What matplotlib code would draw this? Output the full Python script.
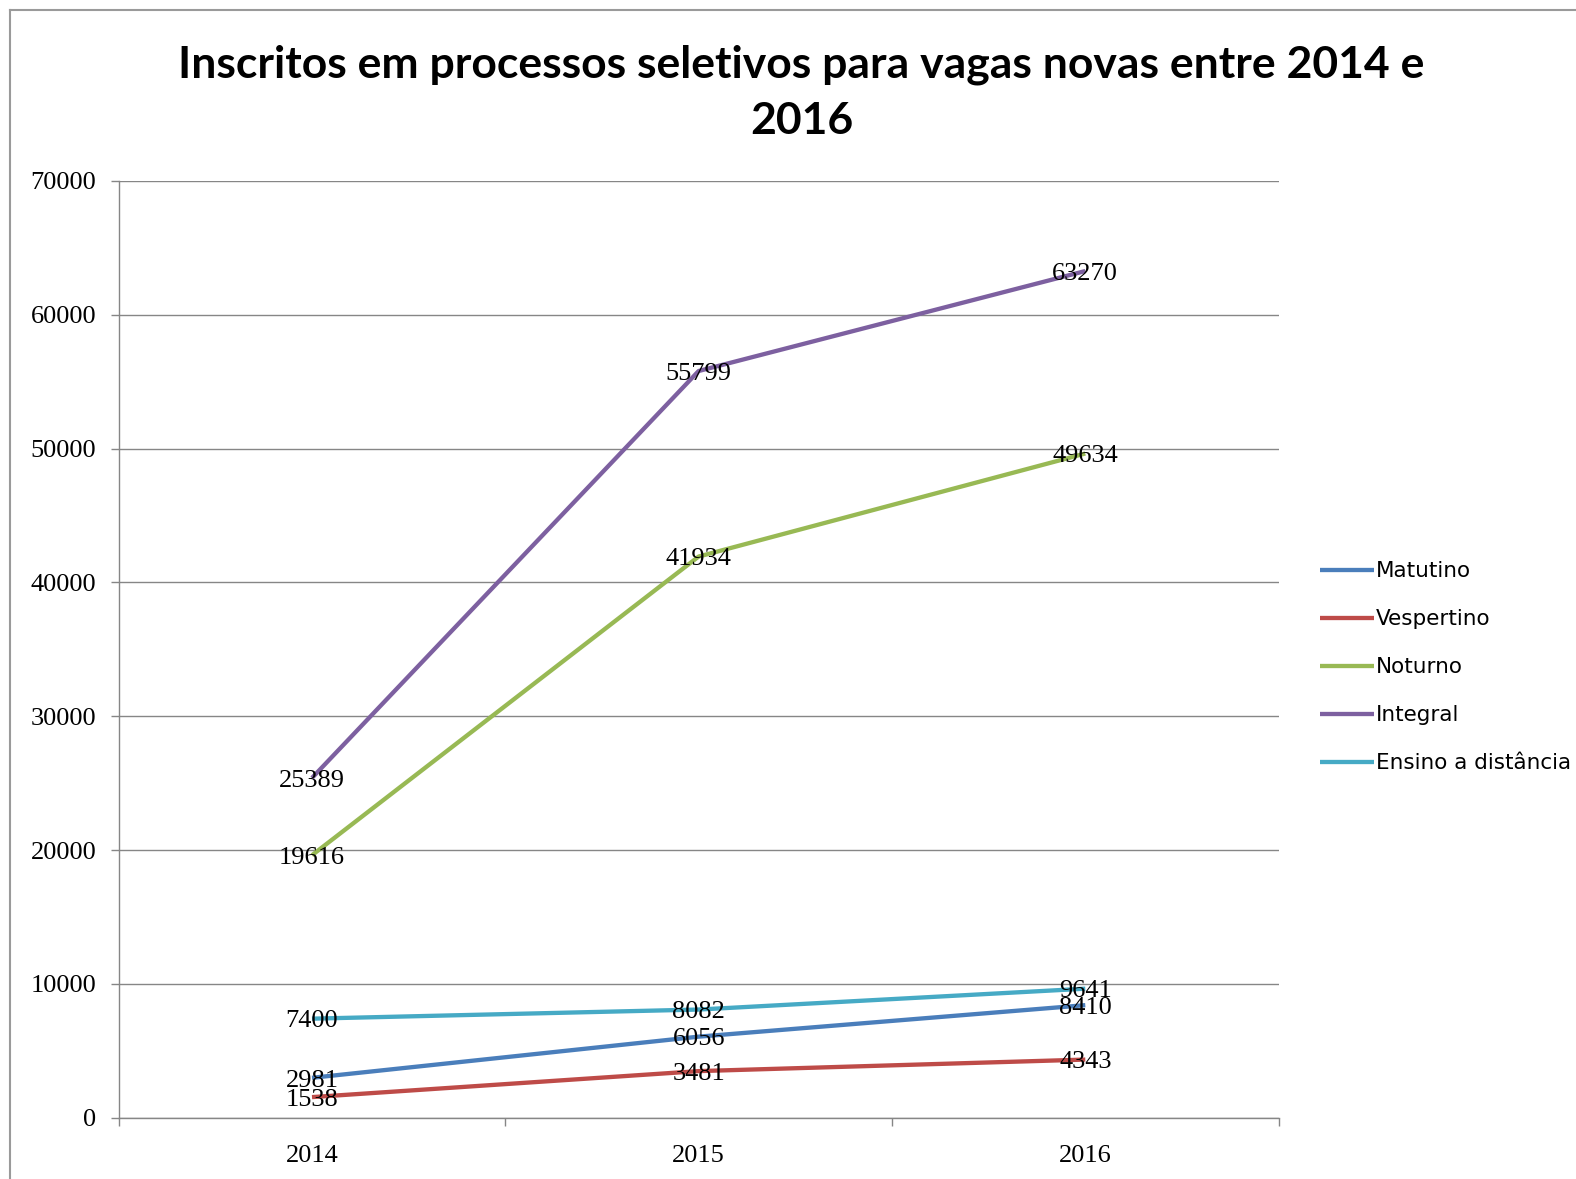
import matplotlib

matplotlib.use("Agg")

import matplotlib.pyplot as plt  # noqa: E402
from matplotlib.lines import Line2D  # noqa: E402

# data
years = ["2014", "2015", "2016"]
series_names = ["Matutino", "Vespertino", "Noturno", "Integral",
                "Ensino a distância"]
matutino = [2981, 6056, 8410]
vespertino = [1538, 3481, 4343]
noturno = [19616, 41934, 49634]
integral = [25389, 55799, 63270]
ead = [7400, 8082, 9641]
y_ticks = [0, 10000, 20000, 30000, 40000, 50000, 60000, 70000]

colors = ["#4A7EBB", "#BE4B48", "#98B954", "#7D60A0", "#46AAC5"]
GRAY = "#868686"
NUM_FONT = "Liberation Serif"

fig = plt.figure(figsize=(15.76, 11.79), dpi=100)
ax = fig.add_axes((0.0753, 0.0520, 0.7360, 0.7945))

x = list(range(len(years)))
for name, vals, col in zip(series_names,
                           [matutino, vespertino, noturno, integral, ead],
                           colors):
    ax.plot(x, vals, color=col, lw=3.1, label=name, solid_capstyle="butt",
            zorder=3)
    for xi, v in zip(x, vals):
        ax.annotate(str(v), (xi, v), xytext=(0, -2), textcoords="offset points",
                    ha="center", va="center", fontsize=19, family=NUM_FONT,
                    color="black", zorder=4)

ax.set_xlim(-0.5, len(years) - 0.5)
ax.set_ylim(0, 70000)
ax.set_yticks(y_ticks)
ax.set_yticklabels([str(t) for t in y_ticks], family=NUM_FONT, fontsize=19)
ax.set_xticks(x)
ax.set_xticklabels(years, family=NUM_FONT, fontsize=19)
ax.set_xticks([i - 0.5 for i in range(len(years) + 1)], minor=True)
ax.tick_params(axis="x", which="major", length=0, pad=20)
ax.tick_params(axis="x", which="minor", length=6, color=GRAY, width=1)
ax.tick_params(axis="y", length=6, color=GRAY, width=1, pad=10)
ax.yaxis.grid(True, color=GRAY, lw=1)
ax.set_axisbelow(True)
for side in ("top", "right"):
    ax.spines[side].set_visible(False)
for side in ("left", "bottom"):
    ax.spines[side].set_color(GRAY)
    ax.spines[side].set_linewidth(1)

fig.text(0.5086, 0.9210,
         "Inscritos em processos seletivos para vagas novas entre 2014 e\n2016",
         ha="center", va="center", fontsize=32, fontweight="bold",
         family="Lato", linespacing=1.49)

ax.legend(loc="center left", bbox_to_anchor=(0.8374, 0.4339),
          bbox_transform=fig.transFigure, frameon=False,
          handlelength=2.5, handletextpad=0.12, labelspacing=1.3,
          borderpad=0, borderaxespad=0,
          prop={"family": "DejaVu Sans", "size": 15.5})

# outer chart border (cropped screenshot: only top and left edges visible)
fig.add_artist(Line2D([10 / 1576, 1.0], [1 - 10 / 1179] * 2,
                      transform=fig.transFigure, color="#9a9a9a", lw=1.5))
fig.add_artist(Line2D([10 / 1576] * 2, [0.0, 1 - 10 / 1179],
                      transform=fig.transFigure, color="#9a9a9a", lw=1.5))

fig.savefig("out.png", dpi=100)
plt.close(fig)
